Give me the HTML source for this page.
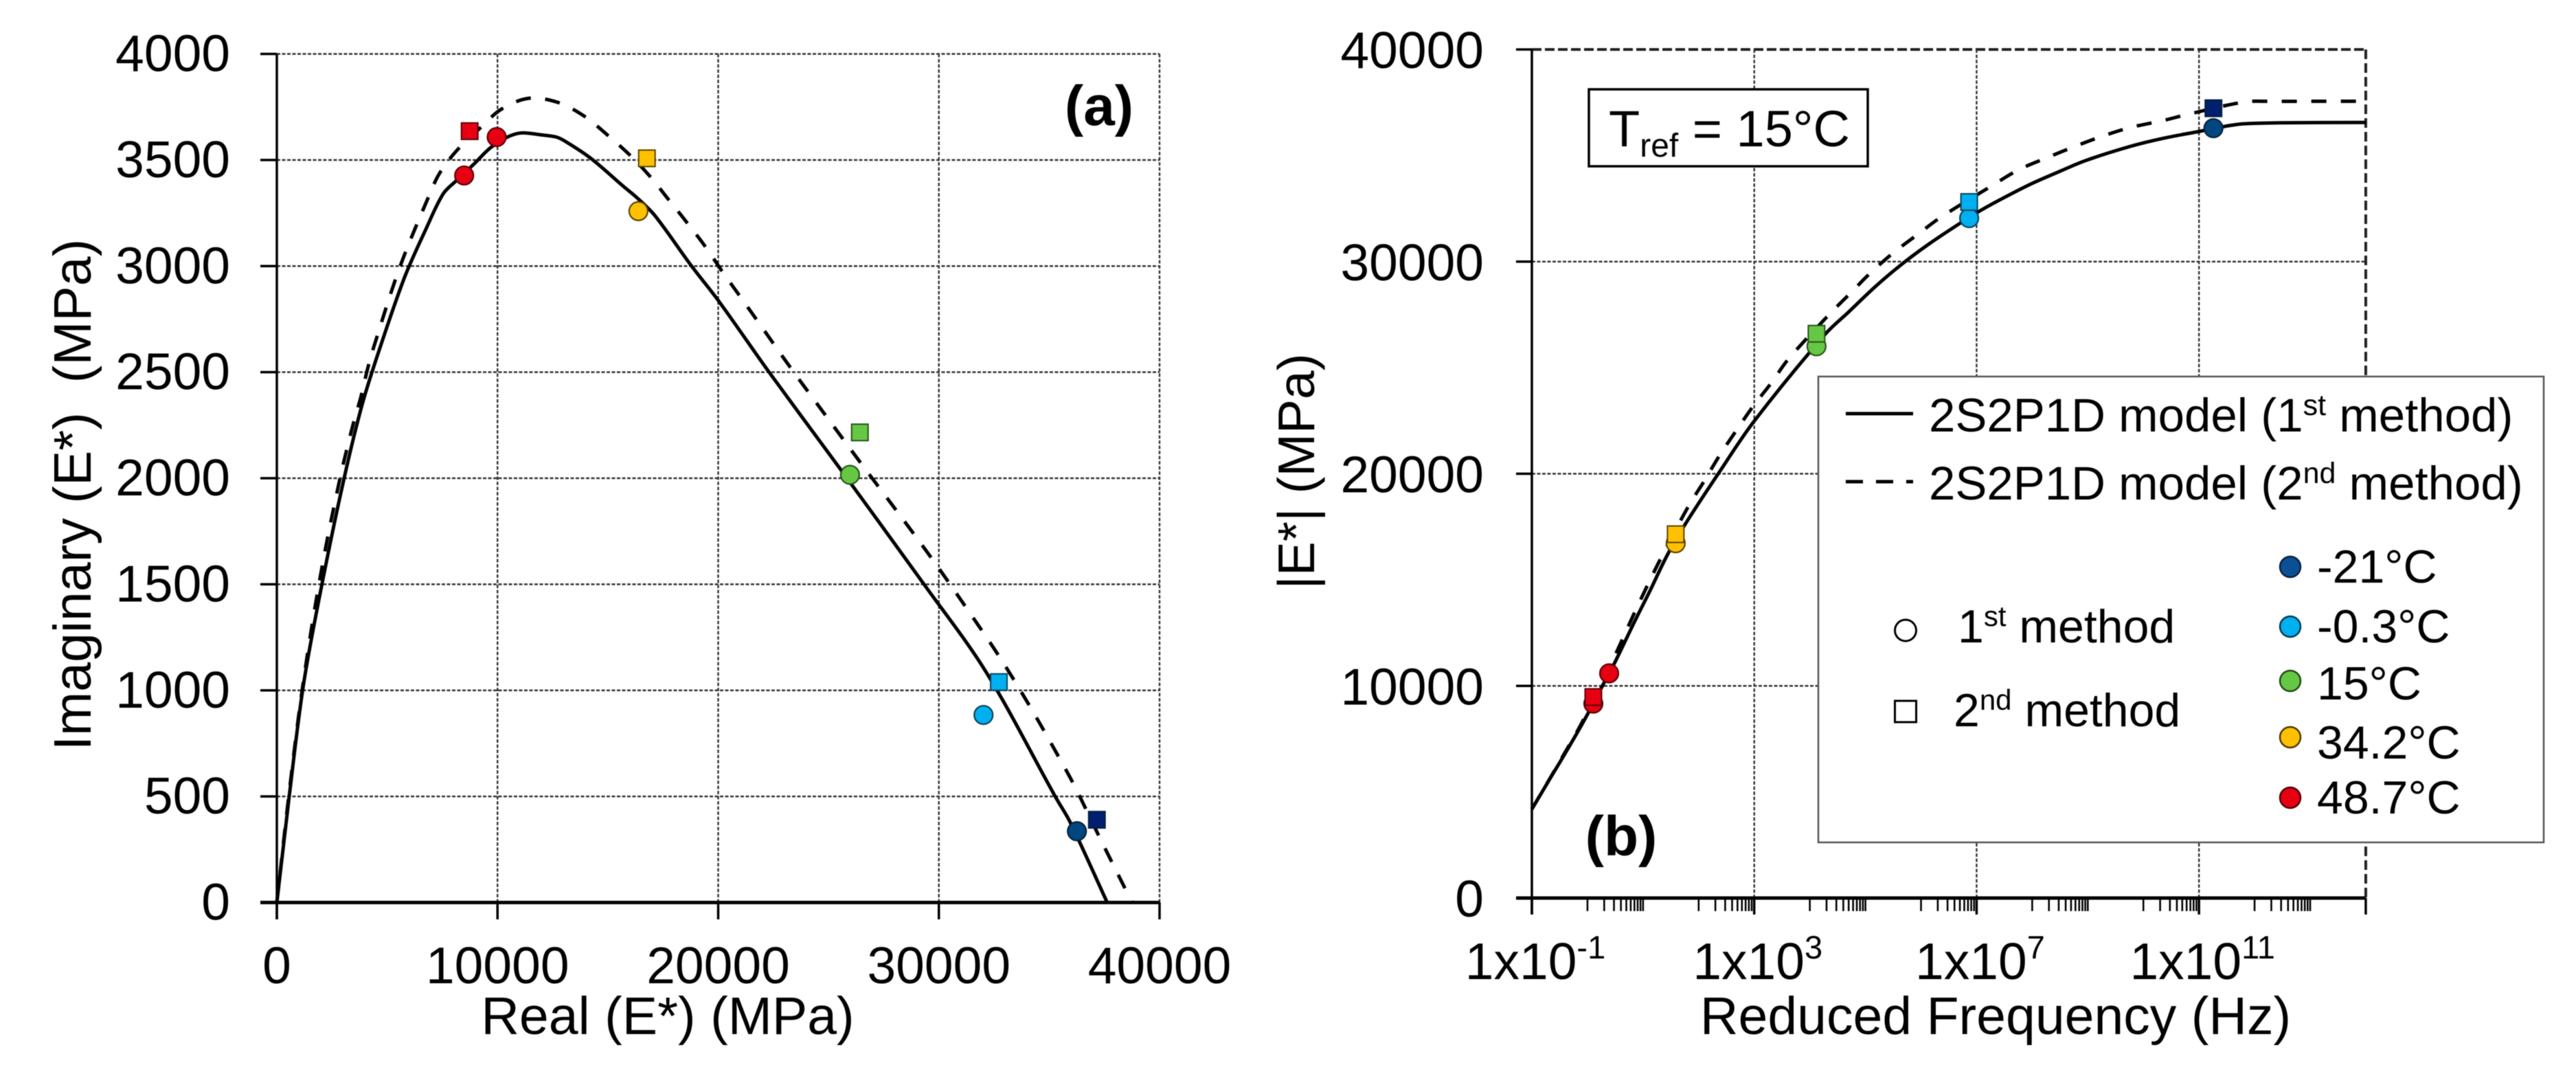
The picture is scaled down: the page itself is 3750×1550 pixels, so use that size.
<!DOCTYPE html>
<html lang="en">
<head>
<meta charset="utf-8">
<title>Complex modulus: Cole-Cole and master curve</title>
<style>
html,body{margin:0;padding:0;background:#fff;}
svg{display:block;font-family:"Liberation Sans",Arial,sans-serif;fill:#000;filter:blur(0.6px);}
</style>
</head>
<body>
<svg id="figure" xmlns="http://www.w3.org/2000/svg" width="3750" height="1550" viewBox="0 0 3750 1550">
  <rect x="0" y="0" width="3750" height="1550" fill="#ffffff"/>
  <g id="panelA"></g>
  <g id="panelB"></g>

  <text transform="translate(132,720) rotate(-90)" text-anchor="middle" font-size="77" xml:space="preserve">Imaginary (E*)  (MPa)</text>
  <text x="972" y="1505" text-anchor="middle" font-size="77">Real (E*) (MPa)</text>
  <text x="1600" y="182" text-anchor="middle" font-size="82" font-weight="bold">(a)</text>

  <text transform="translate(1913,686) rotate(-90)" text-anchor="middle" font-size="75">|E*| (MPa)</text>
  <text x="2905" y="1505" text-anchor="middle" font-size="77">Reduced Frequency (Hz)</text>

  <g>
    <rect x="2313" y="130" width="406" height="112" fill="#ffffff" stroke="#000" stroke-width="3.5"/>
    <text x="2342" y="213" font-size="74">T<tspan font-size="48" dy="15">ref</tspan><tspan dy="-15"> = 15°C</tspan></text>
  </g>
  <text x="2360" y="1245" text-anchor="middle" font-size="82" font-weight="bold">(b)</text>

  <g id="legend">
    <rect x="2647" y="548" width="1056" height="678" fill="#ffffff" stroke="#555" stroke-width="2.5"/>
    <line x1="2687" y1="602" x2="2785" y2="602" stroke="#000" stroke-width="5"/>
    <text x="2808" y="628" font-size="69">2S2P1D model (1<tspan font-size="43" dy="-24">st</tspan><tspan dy="24"> method)</tspan></text>
    <line x1="2687" y1="701" x2="2785" y2="701" stroke="#000" stroke-width="5" stroke-dasharray="25 19"/>
    <text x="2808" y="727" font-size="69">2S2P1D model (2<tspan font-size="43" dy="-24">nd</tspan><tspan dy="24"> method)</tspan></text>
    <circle cx="2774" cy="917.5" r="15.5" fill="#ffffff" stroke="#000" stroke-width="3"/>
    <text x="2850" y="935" font-size="68">1<tspan font-size="42" dy="-24">st</tspan><tspan dy="24"> method</tspan></text>
    <rect x="2758.5" y="1020" width="31" height="31" fill="#ffffff" stroke="#000" stroke-width="3"/>
    <text x="2844" y="1057" font-size="68">2<tspan font-size="42" dy="-24">nd</tspan><tspan dy="24"> method</tspan></text>
    <circle cx="3334" cy="825" r="15" fill="#0b4f96" stroke="#0a1f3c" stroke-width="2.5"/>
    <text x="3373" y="848" font-size="68">-21°C</text>
    <circle cx="3334" cy="912" r="15" fill="#00b0f0" stroke="#0a3a50" stroke-width="2.5"/>
    <text x="3373" y="935" font-size="68">-0.3°C</text>
    <circle cx="3334" cy="991" r="15" fill="#66c744" stroke="#1f4a14" stroke-width="2.5"/>
    <text x="3373" y="1018" font-size="68">15°C</text>
    <circle cx="3334" cy="1073" r="15" fill="#ffc000" stroke="#4a3800" stroke-width="2.5"/>
    <text x="3373" y="1104" font-size="68">34.2°C</text>
    <circle cx="3334" cy="1161" r="15" fill="#e60012" stroke="#4a0006" stroke-width="2.5"/>
    <text x="3373" y="1184" font-size="68">48.7°C</text>
  </g>
</svg>

<script>
// ---------- Panel (a): Cole-Cole data ----------
const aRealTicks = [0, 10000, 20000, 30000, 40000];
const aImagTicks = [0, 500, 1000, 1500, 2000, 2500, 3000, 3500, 4000];

const aSolidReal = [0, 560, 1204, 2033, 3040, 3880, 4732, 5800, 6755, 7533, 8104, 8935, 9660, 10388, 10855, 11217, 11944, 12670, 13085, 14226, 15680, 16354, 17132, 18794, 20038, 22320, 25487, 29347, 32126, 35292, 35956, 37627];
const aSolidImag = [0, 500, 1025, 1494, 1996, 2352, 2633, 2950, 3174, 3340, 3400, 3481, 3556, 3605, 3624, 3628, 3619, 3608, 3587, 3508, 3378, 3319, 3238, 3000, 2833, 2498, 2050, 1497, 1089, 496, 377, 0];

const aDashReal = [0, 540, 1180, 2000, 2864, 3430, 3800, 4110, 4420, 5590, 6911, 7378, 8156, 9298, 10179, 11424, 12723, 13914, 15005, 15990, 16925, 17754, 18585, 19416, 20194, 20972, 21750, 23306, 24912, 26522, 28132, 29739, 31298, 32801, 34200, 35551, 36173, 37359, 38603, 38770];
const aDashImag = [0, 500, 1025, 1555, 2000, 2244, 2380, 2514, 2628, 3000, 3335, 3438, 3545, 3659, 3740, 3791, 3772, 3708, 3616, 3524, 3421, 3313, 3205, 3092, 2973, 2860, 2746, 2517, 2290, 2063, 1840, 1613, 1381, 1149, 911, 664, 544, 291, 32, 0];

// temperature order: -21, -0.3, 15, 34.2, 48.7 (48.7 has a second measured point)
const aCircleReal = [36256, 32023, 25973, 16385, 8488, 9962];
const aCircleImag = [336, 884, 2016, 3259, 3427, 3608];
const aSquareReal = [37160, 32718, 26420, 16770, 8738];
const aSquareImag = [390, 1039, 2216, 3508, 3636];

// ---------- Panel (b): master curve data ----------
const bModTicks = [0, 10000, 20000, 30000, 40000];
const bFreqExpTicks = [-1, 3, 7, 11, 14];
const bFreqExpLabels = ['-1', '3', '7', '11'];
const bMinorDecades = [0, 2, 4, 6, 8, 10, 12];
const bMinorMultipliers = [1, 2, 3, 4, 5, 6, 7, 8, 9, 10];

const bSolidExp = [-1, -0.65, -0.41, -0.15, 0.035, 0.295, 0.507, 0.862, 1.123, 1.43, 1.76, 2.352, 2.99, 4.275, 4.70, 5.173, 5.646, 6.12, 6.686, 7.065, 7.54, 8.01, 8.484, 8.957, 9.75, 10.37, 10.99, 11.26, 11.52, 11.81, 12.43, 14];
const bSolidMod = [4190, 5733, 6780, 7950, 8830, 10130, 11184, 13108, 14470, 16140, 17630, 20000, 22450, 26575, 27630, 28810, 29860, 30790, 31780, 32400, 33080, 33700, 34240, 34760, 35420, 35820, 36130, 36270, 36400, 36500, 36540, 36560];

const bDashExp = [-1, -0.65, -0.41, -0.15, 0.035, 0.295, 0.626, 0.84, 1.076, 1.31, 1.81, 2.09, 2.376, 2.667, 2.975, 3.306, 3.613, 4.345, 4.725, 5.10, 5.505, 5.954, 6.356, 7.277, 7.75, 8.247, 8.72, 9.216, 9.75, 10.37, 10.78, 11.83, 12.34, 14];
const bDashMod = [4190, 5750, 6830, 8020, 8950, 10300, 12180, 13415, 14720, 15960, 18440, 19615, 20860, 22000, 23165, 24280, 25400, 27500, 28500, 29490, 30420, 31310, 32090, 33580, 34320, 34880, 35380, 35870, 36310, 36660, 36930, 37530, 37550, 37560];

const bCircleExp = [11.26, 6.866, 4.12, 1.587, 0.106, 0.39];
const bCircleMod = [36290, 32050, 26010, 16725, 9166, 10590];
const bSquareExp = [11.26, 6.866, 4.12, 1.587, 0.106];
const bSquareMod = [37230, 32810, 26600, 17150, 9474];

const circleFill = ['#00467f', '#00b0f0', '#66c744', '#ffc000', '#e60012', '#e60012'];
const squareFill = ['#001f6e', '#00b0f0', '#66c744', '#ffc000', '#e60012'];
const markStroke = ['#08203a', '#0a4058', '#24521a', '#5a4400', '#5a0008', '#5a0008'];
const tempNames = ['minus-21', 'minus-0-3', '15', '34-2', '48-7', '48-7-second'];

// ---------- Axis functions ----------
function xA(v) { return 403 + v / 40000 * 1285; }
function yA(v) { return 1313.5 - v / 4000 * 1235; }
function xB(e) { return 2230 + (e + 1) * 80.93; }
function yB(v) { return 1307 - v / 40000 * 1235; }

const NS = 'http://www.w3.org/2000/svg';
const panelA = document.getElementById('panelA');
const panelB = document.getElementById('panelB');

function svgEl(tag, parent, attrs) {
  const el = document.createElementNS(NS, tag);
  for (const k in attrs) el.setAttribute(k, attrs[k]);
  parent.appendChild(el);
  return el;
}

function smoothPath(xs, ys, fx, fy) {
  const p = xs.map((x, i) => [fx(x), fy(ys[i])]);
  const n = p.length;
  const dist = [];
  for (let i = 0; i < n - 1; i++) dist.push(Math.hypot(p[i + 1][0] - p[i][0], p[i + 1][1] - p[i][1]) || 1);
  const tan = p.map((q, i) => {
    if (i === 0) return [(p[1][0] - q[0]) / dist[0], (p[1][1] - q[1]) / dist[0]];
    if (i === n - 1) return [(q[0] - p[n - 2][0]) / dist[n - 2], (q[1] - p[n - 2][1]) / dist[n - 2]];
    const s = dist[i - 1] + dist[i];
    return [(p[i + 1][0] - p[i - 1][0]) / s, (p[i + 1][1] - p[i - 1][1]) / s];
  });
  let d = 'M' + p[0][0].toFixed(1) + ' ' + p[0][1].toFixed(1);
  for (let i = 0; i < n - 1; i++) {
    const h = dist[i] / 3;
    d += 'C' + (p[i][0] + tan[i][0] * h).toFixed(1) + ' ' + (p[i][1] + tan[i][1] * h).toFixed(1) + ' ' +
      (p[i + 1][0] - tan[i + 1][0] * h).toFixed(1) + ' ' + (p[i + 1][1] - tan[i + 1][1] * h).toFixed(1) + ' ' +
      p[i + 1][0].toFixed(1) + ' ' + p[i + 1][1].toFixed(1);
  }
  return d;
}

const GRID_H = {stroke: '#333', 'stroke-width': 2.6, 'stroke-dasharray': '5 2.5', fill: 'none'};
const GRID_V = {stroke: '#333', 'stroke-width': 2.4, 'stroke-dasharray': '5 2.5', fill: 'none'};

// ---------- Panel (a) drawing ----------
aImagTicks.forEach(function (t) {
  if (t > 0) {
    const g = svgEl('line', panelA, Object.assign({x1: xA(0), y1: yA(t), x2: xA(40000), y2: yA(t)}, GRID_H));
    
    
  }
  const tk = svgEl('line', panelA, {x1: 379, y1: yA(t), x2: xA(0), y2: yA(t), stroke: '#000', 'stroke-width': 3.5});
  
  
  const lb = svgEl('text', panelA, {x: 335, y: yA(t) + 25, 'text-anchor': 'end', 'font-size': 75});
  lb.textContent = String(t);
  
  
});
aRealTicks.forEach(function (t) {
  if (t > 0) {
    const g = svgEl('line', panelA, Object.assign({x1: xA(t), y1: yA(4000), x2: xA(t), y2: yA(0)}, GRID_V));
    
    
  }
  const tk = svgEl('line', panelA, {x1: xA(t), y1: yA(0), x2: xA(t), y2: 1338, stroke: '#000', 'stroke-width': 3.5});
  
  
  const lb = svgEl('text', panelA, {x: xA(t), y: 1431, 'text-anchor': 'middle', 'font-size': 75});
  lb.textContent = String(t);
  
  
});
const aYAxis = svgEl('line', panelA, {x1: xA(0), y1: yA(4000), x2: xA(0), y2: 1338, stroke: '#000', 'stroke-width': 3.5});


const aXAxis = svgEl('line', panelA, {x1: 379, y1: yA(0), x2: xA(40000), y2: yA(0), stroke: '#000', 'stroke-width': 5});



const aDashLine = svgEl('path', panelA, {d: smoothPath(aDashReal, aDashImag, xA, yA), fill: 'none', stroke: '#000', 'stroke-width': 5, 'stroke-dasharray': '22 21'});


const aSolidLine = svgEl('path', panelA, {d: smoothPath(aSolidReal, aSolidImag, xA, yA), fill: 'none', stroke: '#000', 'stroke-width': 5});



aSquareReal.forEach(function (v, i) {
  const m = svgEl('rect', panelA, {x: xA(v) - 12, y: yA(aSquareImag[i]) - 12, width: 24, height: 24, fill: squareFill[i], stroke: markStroke[i], 'stroke-width': 2});
  
  
});
aCircleReal.forEach(function (v, i) {
  const m = svgEl('circle', panelA, {cx: xA(v), cy: yA(aCircleImag[i]), r: 13.5, fill: circleFill[i], stroke: markStroke[i], 'stroke-width': 2.2});
  
  
});

// ---------- Panel (b) drawing ----------
bModTicks.forEach(function (t) {
  if (t > 0) {
    const heavy = t === 40000;
    const g = svgEl('line', panelB, Object.assign({x1: xB(-1), y1: yB(t), x2: xB(14), y2: yB(t)}, heavy ? {stroke: '#222', 'stroke-width': 4, 'stroke-dasharray': '14 5', fill: 'none'} : GRID_H));
    
    
  }
  const tk = svgEl('line', panelB, {x1: 2207, y1: yB(t), x2: xB(-1), y2: yB(t), stroke: '#000', 'stroke-width': 3.5});
  
  
  const lb = svgEl('text', panelB, {x: 2160, y: yB(t) + 27, 'text-anchor': 'end', 'font-size': 75});
  lb.textContent = String(t);
  
  
});
bFreqExpTicks.forEach(function (e, i) {
  if (i > 0) {
    const heavy = e === 14;
    const g = svgEl('line', panelB, Object.assign({x1: xB(e), y1: yB(40000), x2: xB(e), y2: yB(0)}, heavy ? {stroke: '#222', 'stroke-width': 4, 'stroke-dasharray': '14 6', fill: 'none'} : GRID_V));
    
    
  }
  const tk = svgEl('line', panelB, {x1: xB(e), y1: yB(0), x2: xB(e), y2: 1331, stroke: '#000', 'stroke-width': 3.5});
  
  
  if (i < bFreqExpLabels.length) {
    const lb = svgEl('text', panelB, {x: xB(e) + 5, y: 1425, 'text-anchor': 'middle', 'font-size': 75});
    
    
    lb.appendChild(document.createTextNode('1x10'));
    const sup = svgEl('tspan', lb, {dy: -30, 'font-size': 47});
    sup.textContent = bFreqExpLabels[i];
  }
});
bMinorDecades.forEach(function (d) {
  bMinorMultipliers.forEach(function (k) {
    const e = d + Math.log10(k);
    const tk = svgEl('line', panelB, {x1: xB(e), y1: yB(0), x2: xB(e), y2: 1326, stroke: '#000', 'stroke-width': 2.6});
    
    
  });
});
const bYAxis = svgEl('line', panelB, {x1: xB(-1), y1: yB(40000), x2: xB(-1), y2: 1331, stroke: '#000', 'stroke-width': 3.5});


const bXAxis = svgEl('line', panelB, {x1: 2207, y1: yB(0), x2: xB(14), y2: yB(0), stroke: '#000', 'stroke-width': 5});



const bDashLine = svgEl('path', panelB, {d: smoothPath(bDashExp, bDashMod, xB, yB), fill: 'none', stroke: '#000', 'stroke-width': 5, 'stroke-dasharray': '22 21'});


const bSolidLine = svgEl('path', panelB, {d: smoothPath(bSolidExp, bSolidMod, xB, yB), fill: 'none', stroke: '#000', 'stroke-width': 5});



bCircleExp.forEach(function (e, i) {
  const m = svgEl('circle', panelB, {cx: xB(e), cy: yB(bCircleMod[i]), r: 13.5, fill: circleFill[i], stroke: markStroke[i], 'stroke-width': 2.2});
  
  
});
bSquareExp.forEach(function (e, i) {
  const m = svgEl('rect', panelB, {x: xB(e) - 12, y: yB(bSquareMod[i]) - 12, width: 24, height: 24, fill: squareFill[i], stroke: markStroke[i], 'stroke-width': 2});
  
  
});
</script>
</body>
</html>
